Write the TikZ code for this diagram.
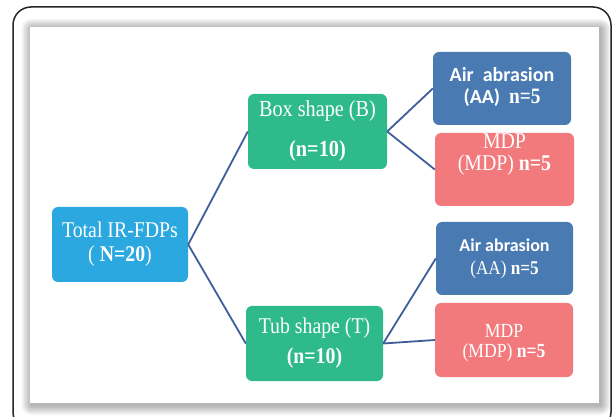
\documentclass[tikz,border=0pt]{standalone}
\usepackage{fontspec}
\setmainfont{Liberation Serif}[FakeStretch=0.88]
\newfontfamily\carlito{Carlito}
\newcommand\liftup[2]{\raisebox{#1}[\height][\depth]{\begin{tabular}{@{}c@{}}#2\end{tabular}}}
\definecolor{cTotal}{HTML}{2AA8DF}
\definecolor{cGreen}{HTML}{2EBA8B}
\definecolor{cAA}{HTML}{4A7AB2}
\definecolor{cMDP}{HTML}{F27A7D}
\definecolor{cLine}{HTML}{3F5E9B}
\tikzset{
  boxnode/.style={rounded corners=6pt, text=white, inner sep=0pt, align=center},
  conn/.style={draw=cLine, line width=1.8pt},
}
\begin{document}
\begin{tikzpicture}[x=1pt,y=-1pt]
\useasboundingbox (0,0) rectangle (614,417);
\clip (0,0) rectangle (614,417);
\fill[white] (0,0) rectangle (614,417);
% outer frame
\draw[line width=1.5pt, rounded corners=18pt, draw=black!85] (13,7) rectangle (611,430);
% panel shadow
\foreach \i in {1,...,10}{
  \fill[black, opacity=0.032, rounded corners=\i pt] (30-\i+1.5,27-\i+2) rectangle (599+\i+1.5,403+\i+2);
}
\fill[white] (30,27) rectangle (599,403);
% nodes
\node[boxnode, fill=cTotal, minimum width=136pt, minimum height=75pt] (total) at (120,244.5)
  {\fontsize{22.5}{24}\selectfont\liftup{0pt}{Total IR-FDPs\\( \textbf{N=20})}};
\node[boxnode, fill=cGreen, minimum width=139pt, minimum height=75pt] (box) at (317.5,131.5)
  {\fontsize{23}{24}\selectfont\liftup{0pt}{Box shape (B)\\[16pt]\textbf{(n=10)}}};
\node[boxnode, fill=cGreen, minimum width=137pt, minimum height=75pt] (tub) at (314.5,343.5)
  {\fontsize{22.5}{24}\selectfont\liftup{0pt}{Tub shape (T)\\[6pt]\textbf{(n=10)}}};
\node[boxnode, fill=cAA, minimum width=138pt, minimum height=73pt] (aa1) at (502,88.5)
  {\fontsize{20}{22}\selectfont\liftup{0pt}{{\carlito\bfseries Air\ \ abrasion}\\{\carlito\bfseries (AA)}\ \ {\fontsize{22}{22}\selectfont\textbf{n=5}}}};
\node[boxnode, fill=cMDP, minimum width=139pt, minimum height=73pt] (mdp1) at (504.5,169.5)
  {\fontsize{22.5}{21}\selectfont\liftup{14pt}{MDP\\(MDP) \textbf{n=5}}};
\node[boxnode, fill=cAA, minimum width=137pt, minimum height=73pt] (aa2) at (504.5,258.5)
  {\fontsize{19.5}{23}\selectfont\liftup{0pt}{{\fontsize{18}{23}\selectfont\carlito\bfseries Air abrasion}\\(AA) \textbf{n=5}}};
\node[boxnode, fill=cMDP, minimum width=138pt, minimum height=74pt] (mdp2) at (504,340)
  {\fontsize{20}{20}\selectfont\liftup{-3pt}{MDP\\(MDP) \textbf{n=5}}};
% connectors
\draw[conn] (total.east) -- (box.west);
\draw[conn] (total.east) -- (tub.west);
\draw[conn] (box.east) -- (aa1.west);
\draw[conn] (box.east) -- (mdp1.west);
\draw[conn] (tub.east) -- (aa2.west);
\draw[conn] (tub.east) -- (mdp2.west);
\end{tikzpicture}
\end{document}
